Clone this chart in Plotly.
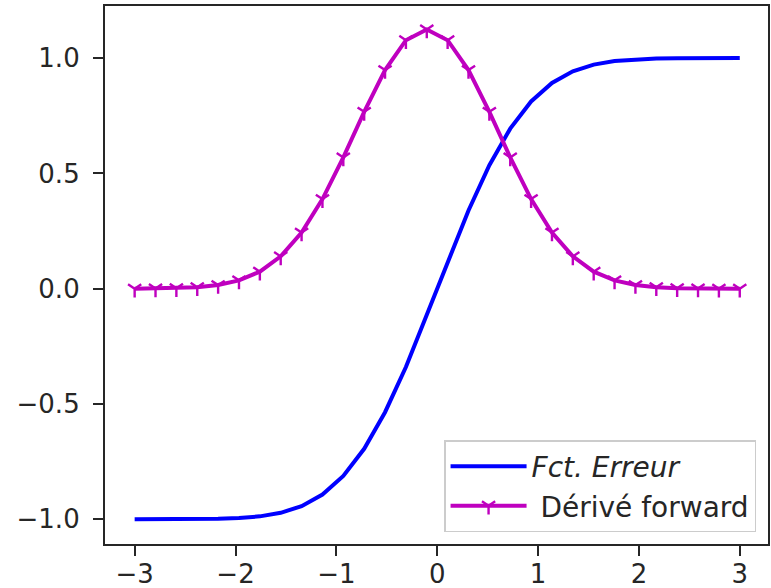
import plotly.graph_objects as go

# Sample points on [-3, 3] (30 points)
x = [-3.0, -2.7931, -2.5862, -2.3793, -2.1724, -1.9655, -1.7586, -1.5517,
     -1.3448, -1.1379, -0.9310, -0.7241, -0.5172, -0.3103, -0.1034,
     0.1034, 0.3103, 0.5172, 0.7241, 0.9310, 1.1379, 1.3448, 1.5517,
     1.7586, 1.9655, 2.1724, 2.3793, 2.5862, 2.7931, 3.0]

# Error function values
erf_vals = [-0.99998, -0.99992, -0.99974, -0.99923, -0.9979, -0.9946, -0.9871,
            -0.9718, -0.9428, -0.8924, -0.8120, -0.6942, -0.5355, -0.3393,
            -0.1163, 0.1163, 0.3393, 0.5355, 0.6942, 0.8120, 0.8924, 0.9428,
            0.9718, 0.9871, 0.9946, 0.9979, 0.99923, 0.99974, 0.99992, 0.99998]

# Forward-difference derivative
deriv_fwd = [0.0003, 0.0009, 0.0025, 0.0064, 0.0160, 0.0363, 0.0740, 0.1402,
             0.2436, 0.3886, 0.5694, 0.7670, 0.9483, 1.0778, 1.1242, 1.0778,
             0.9483, 0.7670, 0.5694, 0.3886, 0.2436, 0.1402, 0.0740, 0.0363,
             0.0160, 0.0064, 0.0025, 0.0009, 0.0003, 0.0000]

x_ticks = [-3, -2, -1, 0, 1, 2, 3]
x_tick_text = ["\u22123", "\u22122", "\u22121", "0", "1", "2", "3"]
y_ticks = [-1.0, -0.5, 0.0, 0.5, 1.0]
y_tick_text = ["\u22121.0", "\u22120.5", "0.0", "0.5", "1.0"]

font_family = "DejaVu Sans"
text_color = "#262626"
tick_size = 26
legend_size = 28

fig = go.Figure()
fig.add_trace(go.Scatter(
    x=x, y=erf_vals, mode="lines",
    name="<i>Fct. Erreur</i>",
    line=dict(color="#0000ff", width=4),
    legendgroup="a",
))
fig.add_trace(go.Scatter(
    x=x, y=deriv_fwd, mode="lines+markers",
    name=" Dérivé forward",
    line=dict(color="#bf00bf", width=4),
    marker=dict(symbol="y-down", size=11, color="#bf00bf",
                line=dict(color="#bf00bf", width=2.4)),
    legendgroup="b",
))

axis_common = dict(
    showline=True, linecolor="#262626", linewidth=2.2, mirror=True,
    ticks="outside", ticklen=10, tickwidth=2.2, tickcolor="#262626",
    showgrid=False, zeroline=False, automargin=False,
    tickfont=dict(family=font_family, size=tick_size, color=text_color),
)

fig.update_xaxes(range=[-3.294, 3.28], tickvals=x_ticks, ticktext=x_tick_text,
                 ticklabelstandoff=-4, **axis_common)
fig.update_yaxes(range=[-1.107, 1.226], tickvals=y_ticks, ticktext=y_tick_text,
                 ticklabelstandoff=8, **axis_common)

fig.update_layout(
    width=771, height=588,
    margin=dict(l=105, r=3, t=6, b=44),
    paper_bgcolor="white", plot_bgcolor="white",
    font=dict(family=font_family, size=tick_size, color=text_color),
    showlegend=True,
    legend=dict(
        x=0.982, y=0.022, xanchor="right", yanchor="bottom",
        bgcolor="rgba(255,255,255,0.8)", bordercolor="#cccccc", borderwidth=1.5,
        font=dict(family=font_family, size=legend_size, color=text_color),
        tracegroupgap=0, traceorder="grouped", itemwidth=76,
    ),
)

fig.write_html("out.html")
